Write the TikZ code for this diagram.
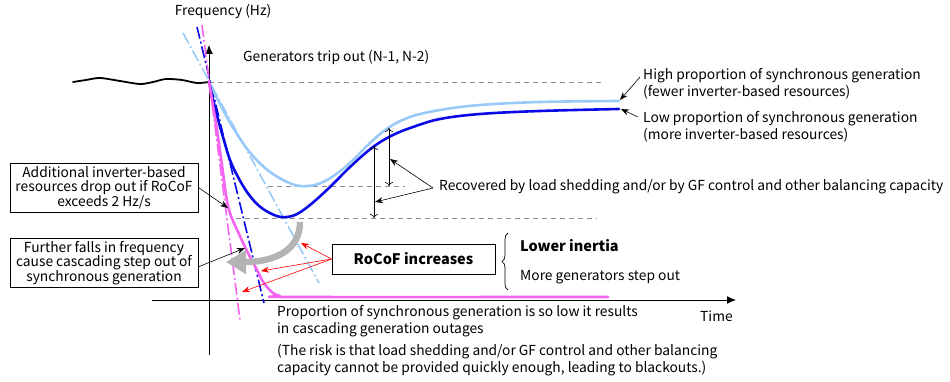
\documentclass[tikz,border=0pt]{standalone}
\usepackage{fontspec}
\setmainfont{Noto Sans CJK JP}
\usetikzlibrary{arrows.meta,decorations.pathreplacing}
\definecolor{lblue}{HTML}{99C9F8}
\definecolor{dblue}{HTML}{0A0AE6}
\definecolor{pinkc}{HTML}{F464F0}
\definecolor{greyarr}{HTML}{B4B4B4}
\definecolor{guidegray}{HTML}{8C8C8C}
\begin{document}
\begin{tikzpicture}[x=1pt,y=-1pt,
  font=\fontsize{13.8}{17}\selectfont,
  curve/.style={line width=2.6pt, line join=round, line cap=round},
  tang/.style={line width=1.6pt, dash pattern=on 12pt off 3pt on 2pt off 3pt},
  guide/.style={guidegray, line width=0.8pt, dash pattern=on 5pt off 4pt},
  lbl/.style={inner sep=0pt, anchor=west, align=left},
  boxed/.style={draw, line width=0.8pt, align=center, minimum width=188pt, minimum height=49pt, inner sep=0pt, font=\fontsize{13.8}{14.5}\selectfont},
  ptr/.style={-{Stealth[length=8pt,width=6pt]}, line width=0.6pt},
  redptr/.style={red, -{Stealth[length=8pt,width=6pt]}, line width=0.6pt},
  dbl/.style={{To[length=4pt,width=8pt]}-{To[length=4pt,width=8pt]}, line width=0.6pt}]
\useasboundingbox (0,0) rectangle (950,382);

% guides
\coordinate (o) at (209,82);
\coordinate (g1a) at (209,82); \coordinate (g1b) at (605,82);
\coordinate (g2a) at (268,186); \coordinate (g2b) at (405,186);
\coordinate (g3a) at (236,218); \coordinate (g3b) at (597,218);
\draw[guide] (g1a) -- (g1b);
\draw[guide] (g2a) -- (g2b);
\draw[guide] (g3a) -- (g3b);

% axes
\coordinate (ybot) at (209,355); \coordinate (ytop) at (209,45);
\coordinate (xleft) at (152,300); \coordinate (xright) at (736,300);
\draw[line width=1pt, -{Latex[length=9pt,width=8pt]}] (ybot) -- (ytop);
\draw[line width=1pt, -{Latex[length=9pt,width=8pt]}] (xleft) -- (xright);
\node[anchor=center, inner sep=0pt] (ylab) at (223,11) {Frequency (Hz)};
\node[lbl] (xlab) at (700,316) {Time};

% pre-disturbance wave
\draw[line width=1.8pt, line cap=round] plot[smooth] coordinates {(73,82) (86,80) (100,78) (120,81) (140,84) (153,82) (166,79) (182,80) (197,83) (209,82)};

% tangent (RoCoF) lines
\coordinate (lt1) at (183,33); \coordinate (lt2) at (319,283);
\coordinate (dt1) at (197,27); \coordinate (dt2) at (264,303);
\coordinate (pt1) at (202,25); \coordinate (pt2) at (240,320);
\draw[tang, lblue] (lt1) -- (lt2);
\draw[tang, dblue] (dt1) -- (dt2);
\draw[tang, pinkc] (pt1) -- (pt2);

% frequency curves
\draw[curve, lblue] plot[smooth, tension=0.6] coordinates {(209,82) (220,104) (232,126) (248,150) (265,168) (283,180) (300,186) (318,184) (335,175) (353,160) (370,143) (388,128) (410,117) (440,110) (480,105) (540,102) (619,101)};
\draw[curve, dblue] plot[smooth, tension=0.6] coordinates {(209,82) (216,112) (223,137) (230,160) (238,177) (247,192) (257,204) (268,212) (281,217) (295,215) (310,205) (330,187) (350,167) (373,147) (393,135) (413,127) (440,119) (480,114) (540,111) (619,109)};
\draw[curve, pinkc] plot[smooth, tension=0.5] coordinates {(209,82) (213,106) (217,130) (222,165) (226,195) (229,210) (233,221) (239,234) (245,247) (251,259) (257,270) (262,280) (267,287) (273,293) (280,296) (292,297) (608,297)};

% grey curved arrow
\coordinate (ga) at (300,222); \coordinate (gb) at (226,262);
\draw[greyarr, line width=6.5pt, -{Triangle[length=20pt,width=23pt]}] (ga) .. controls (300,250) and (275,262) .. (gb);

% text labels
\node[lbl] (trip) at (243,57) {Generators trip out (N-1, N-2)};
\node[lbl] (high) at (643,83.5) {High proportion of synchronous generation\\(fewer inverter-based resources)};
\node[lbl] (low) at (643,127) {Low proportion of synchronous generation\\(more inverter-based resources)};
\node[lbl] (rec) at (439,187) {Recovered by load shedding and/or by GF control and other balancing capacity};
\node[lbl] (prop) at (277,321.5) {Proportion of synchronous generation is so low it results\\in cascading generation outages};
\node[lbl] (risk) at (277,360) {(The risk is that load shedding and/or GF control and other balancing\\capacity cannot be provided quickly enough, leading to blackouts.)};

% boxes
\node[boxed] (box1) at (104,187.5) {Additional inverter-based\\resources drop out if RoCoF\\exceeds 2 Hz/s};
\node[boxed] (box2) at (104,263) {Further falls in frequency\\cause cascading step out of\\synchronous generation};
\node[draw, line width=0.8pt, minimum width=163pt, minimum height=30pt, inner sep=0pt, font=\fontsize{14.5}{17}\selectfont\bfseries] (rocof) at (413.5,259) {RoCoF increases};

% brace and its labels
\coordinate (br1) at (508,290); \coordinate (br2) at (508,233);
\draw[line width=0.7pt, decorate, decoration={brace, amplitude=6pt}] (br1) -- (br2);
\node[lbl, font=\fontsize{14.5}{17}\selectfont\bfseries] (lower) at (520,246) {Lower inertia};
\node[lbl] (more) at (520,277) {More generators step out};

% pointer arrows
\coordinate (hf) at (640,77); \coordinate (ht) at (620,100);
\coordinate (lf) at (638,117); \coordinate (lt) at (621,109);
\draw[ptr] (hf) -- (ht);
\draw[ptr] (lf) -- (lt);

\coordinate (recf) at (433,188);
\coordinate (rt1) at (390,159); \coordinate (rt2) at (375,202);
\draw[ptr] (recf) -- (rt1);
\draw[ptr] (recf) -- (rt2);

\coordinate (da1) at (389,128); \coordinate (da2) at (389,186);
\coordinate (db1) at (374,146); \coordinate (db2) at (374,218);
\draw[dbl] (da1) -- (da2);
\draw[dbl] (db1) -- (db2);

\coordinate (b1t) at (228,208);
\coordinate (b2f) at (198,267); \coordinate (b2t) at (245,248);
\draw[ptr] (box1.east) -- (b1t);
\draw[ptr] (b2f) -- (b2t);

\coordinate (r1) at (301,243); \coordinate (r2) at (261,271); \coordinate (r3) at (242,292);
\draw[redptr] (rocof.west) -- (r1);
\draw[redptr] (rocof.west) -- (r2);
\draw[redptr] (rocof.west) -- (r3);
\end{tikzpicture}
\end{document}
